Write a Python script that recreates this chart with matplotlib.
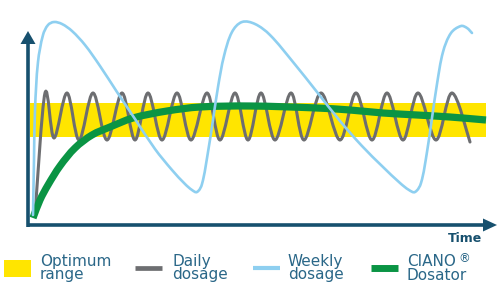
import numpy as np
import matplotlib
matplotlib.use("Agg")
import matplotlib.pyplot as plt
from matplotlib.path import Path
from matplotlib.patches import PathPatch, Rectangle, Polygon

# ---------------- data (time units, level units) ----------------
optimum_t = [2, 458]
optimum_range = [88, 122]

daily_t = [7, 17, 26, 39, 51, 65, 79, 94, 107, 120, 134, 149, 163, 179, 192, 207,
           220, 233, 247, 263, 276, 293, 312, 328, 344, 359, 375, 390, 408, 424, 442]
daily_v = [10, 132, 87, 132, 85, 132, 85, 132, 85, 132, 85, 132, 85, 132, 85, 132,
           85, 132, 85, 132, 85, 132, 85, 132, 85, 132, 85, 132, 85, 132, 83]

weekly_t = [5, 6, 7, 10, 15, 20, 26, 34, 44, 57, 72, 89, 107, 127, 144, 157, 164,
            169, 174, 180, 185, 190, 196, 204, 214, 227, 242, 265, 289, 312, 334,
            355, 372, 381, 387, 393, 399, 404, 409, 415, 423, 433, 439, 444]
weekly_v = [10, 65, 115, 163, 190, 200, 203, 201, 194, 180, 159, 133, 106, 76, 55,
            41, 35, 33, 41, 73, 105, 138, 169, 193, 203, 201, 190, 163, 133, 104,
            79, 58, 42, 35, 33, 42, 73, 107, 141, 173, 192, 199, 197, 192]

ciano_t = [5, 12, 20, 32, 47, 64, 82, 105, 139, 172, 222, 289, 322, 355, 389, 422, 458]
ciano_v = [7, 25, 40, 59, 77, 90, 98, 107, 114, 118, 119, 117, 115, 112, 110, 108, 105]

legend_labels = [("Optimum", "range"), ("Daily", "dosage"),
                 ("Weekly", "dosage"), ("CIANO", "Dosator")]
axis_label_x = "Time"

# ---------------- styles ----------------
YELLOW = "#FFE500"
GRAY = "#6D6E71"
BLUE = "#8ECFF0"
GREEN = "#0A9444"
AXIS = "#17506E"
TXT = "#2A6788"

W, H = 500, 297
fig = plt.figure(figsize=(W / 100, H / 100), dpi=100)
fig.patch.set_facecolor("white")


def smooth_path(xs, ys, chord=False):
    pts = np.column_stack([xs, ys]).astype(float)
    P = np.vstack([pts[0], pts, pts[-1]])
    verts = [pts[0]]
    codes = [Path.MOVETO]
    for i in range(1, len(P) - 2):
        p0, p1, p2, p3 = P[i - 1], P[i], P[i + 1], P[i + 2]
        if chord:
            d = np.linalg.norm(p2 - p1)
            t1 = (p2 - p0) / max(np.linalg.norm(p2 - p0), 1e-9)
            t2 = (p3 - p1) / max(np.linalg.norm(p3 - p1), 1e-9)
            c1, c2 = p1 + t1 * d / 3, p2 - t2 * d / 3
        else:
            c1, c2 = p1 + (p2 - p0) / 6, p2 - (p3 - p1) / 6
        verts += [c1, c2, p2]
        codes += [Path.CURVE4] * 3
    return Path(verts, codes)


# data axes: origin at pixel (28,225), spans to (497,10); 1 unit = 1 px
ax = fig.add_axes([28 / W, (H - 225) / H, 469 / W, 215 / H])
ax.set_xlim(0, 469)
ax.set_ylim(0, 215)
ax.axis("off")

ax.fill_between(optimum_t, optimum_range[0], optimum_range[1], color=YELLOW,
                lw=0, zorder=1)
ax.add_patch(PathPatch(smooth_path(daily_t, daily_v), fc="none", ec=GRAY,
                       lw=2.2, zorder=2, capstyle="round", joinstyle="round"))
ax.add_patch(PathPatch(smooth_path(ciano_t, ciano_v, chord=True), fc="none", ec=GREEN,
                       lw=5.2, zorder=3, capstyle="butt", joinstyle="round"))
ax.add_patch(PathPatch(smooth_path(weekly_t, weekly_v, chord=True), fc="none", ec=BLUE,
                       lw=1.9, zorder=4, capstyle="round", joinstyle="round"))

# overlay axes in pixel coordinates for axis arrows & legend
ov = fig.add_axes([0, 0, 1, 1])
ov.set_xlim(0, W)
ov.set_ylim(H, 0)
ov.axis("off")
ov.patch.set_alpha(0)

ov.plot([28, 28], [226.5, 42], color=AXIS, lw=2.6, solid_capstyle="butt", zorder=5)
ov.plot([26.5, 485], [225, 225], color=AXIS, lw=2.6, solid_capstyle="butt", zorder=5)
ov.add_patch(Polygon([[20.5, 44], [35.5, 44], [28, 31]], closed=True, color=AXIS, lw=0, zorder=5))
ov.add_patch(Polygon([[483, 218.5], [483, 231.5], [497, 225]], closed=True, color=AXIS, lw=0, zorder=5))

ov.text(482, 239, axis_label_x, ha="right", va="center", fontsize=9,
        fontweight="bold", color=AXIS, family="DejaVu Sans")

# legend
ov.add_patch(Rectangle((4, 260), 27, 17, color=YELLOW, lw=0))
ov.plot([135, 162], [268, 268], color=GRAY, lw=3.4, solid_capstyle="butt")
ov.plot([253, 280], [268, 268], color=BLUE, lw=3.0, solid_capstyle="butt")
ov.plot([371, 398], [268, 268], color=GREEN, lw=5.0, solid_capstyle="butt")

text_x = [40, 172, 288, 407]
for (l1, l2), tx in zip(legend_labels, text_x):
    ov.text(tx, 266, l1, ha="left", va="baseline", fontsize=11, color=TXT,
            family="DejaVu Sans")
    ov.text(tx, 279.5, l2, ha="left", va="baseline", fontsize=11, color=TXT,
            family="DejaVu Sans")
ov.text(458, 252.5, "\u00ae", ha="left", va="top", fontsize=8.5, color=TXT,
        family="DejaVu Sans")

fig.savefig("out.png", dpi=100, facecolor="white")
